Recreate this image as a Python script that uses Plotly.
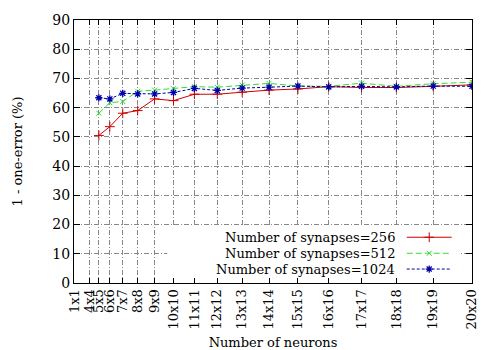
import plotly.graph_objects as go

# ---- data ----
tick_sides = [1, 4, 5, 6, 7, 8, 9, 10, 11, 12, 13, 14, 15, 16, 17, 18, 19, 20]
sides = [5, 6, 7, 8, 9, 10, 11, 12, 13, 14, 15, 16, 17, 18, 19, 20]
syn_256 = [50.5, 53.5, 58.1, 59.0, 63.0, 62.4, 64.6, 64.6, 65.3, 66.0, 66.4, 67.2, 66.9, 66.9, 67.3, 67.8]
syn_512 = [58.1, 61.7, 62.1, 65.6, 66.0, 66.5, 67.2, 67.0, 67.7, 68.3, 67.4, 67.3, 68.4, 67.3, 68.2, 68.7]
syn_1024 = [63.4, 63.0, 64.9, 64.7, 64.7, 65.2, 66.6, 65.9, 66.7, 67.0, 67.4, 67.1, 67.3, 67.1, 67.4, 67.3]
series_names = ["Number of synapses=256", "Number of synapses=512", "Number of synapses=1024"]

x_vals = [s * s for s in sides]
tick_vals = [s * s for s in tick_sides]
tick_text = [f"{s}x{s}" for s in tick_sides]

FONT = "DejaVu Serif"
styles = [
    dict(color="#cc0000", dash="solid", symbol="cross-thin", size=7, lw=1.0),
    dict(color="#33dd33", dash="6px,3px", symbol="x-thin", size=5, lw=1.0),
    dict(color="#0000aa", dash="3px,2px", symbol="asterisk", size=6, lw=1.3),
]

fig = go.Figure()
for name, ys, st in zip(series_names, [syn_256, syn_512, syn_1024], styles):
    fig.add_trace(go.Scatter(
        x=x_vals, y=ys, name=name, mode="lines+markers",
        line=dict(color=st["color"], width=1, dash=st["dash"]),
        marker=dict(symbol=st["symbol"], size=st["size"], color=st["color"],
                    line=dict(color=st["color"], width=st["lw"])),
        showlegend=False,
    ))

# ---- custom legend (text left, sample right) on an overlay axis in [0,1] ----
box_x = [0.234, 0.97, 0.97, 0.234, 0.234]
box_y = [0.004, 0.004, 0.213, 0.213, 0.004]
fig.add_trace(go.Scatter(x=box_x, y=box_y, xaxis="x2", yaxis="y2", mode="lines",
                         fill="toself", fillcolor="white", line=dict(width=0),
                         hoverinfo="skip", showlegend=False))
row_y = [0.174, 0.113, 0.053]
text_x = 0.812
samp_x0, samp_x1 = 0.836, 0.949
for name, ry, st in zip(series_names, row_y, styles):
    fig.add_trace(go.Scatter(
        x=[samp_x0, (samp_x0 + samp_x1) / 2, samp_x1], y=[ry, ry, ry],
        xaxis="x2", yaxis="y2", mode="lines+markers",
        line=dict(color=st["color"], width=1, dash=st["dash"]),
        marker=dict(symbol=st["symbol"], size=st["size"], color=st["color"],
                    line=dict(color=st["color"], width=st["lw"]),
                    opacity=[0, 1, 0]),
        hoverinfo="skip", showlegend=False))
    fig.add_annotation(x=text_x, y=ry, xref="x2", yref="y2", text=name,
                       showarrow=False, xanchor="right", yanchor="middle",
                       font=dict(family=FONT, size=13, color="black"))

grid = dict(showgrid=True, gridcolor="#888888", gridwidth=1, griddash="5px,2px,1px,2px")
fig.update_layout(
    width=500, height=350,
    margin=dict(l=74, r=28, t=20, b=67),
    paper_bgcolor="white", plot_bgcolor="white",
    font=dict(family=FONT, size=13, color="black"),
    xaxis=dict(range=[0, 400], tickvals=tick_vals, ticktext=tick_text, tickangle=-90,
               ticks="inside", ticklen=5, tickcolor="black", showline=True, linecolor="black",
               linewidth=1, mirror="allticks", zeroline=False, automargin=False,
               title=dict(text="Number of neurons", standoff=12, font=dict(size=13)),
               tickfont=dict(size=13), **grid),
    yaxis=dict(range=[0, 90], tickvals=list(range(0, 91, 10)), ticks="inside", ticklen=6,
               tickcolor="black", showline=True, linecolor="black", linewidth=1,
               mirror="allticks", zeroline=False, automargin=False,
               title=dict(text="1 - one-error (%)", standoff=26, font=dict(size=13)),
               tickfont=dict(size=14), **grid),
    xaxis2=dict(overlaying="x", range=[0, 1], visible=False, fixedrange=True),
    yaxis2=dict(overlaying="y", range=[0, 1], visible=False, fixedrange=True),
)

fig.write_html("out.html")
